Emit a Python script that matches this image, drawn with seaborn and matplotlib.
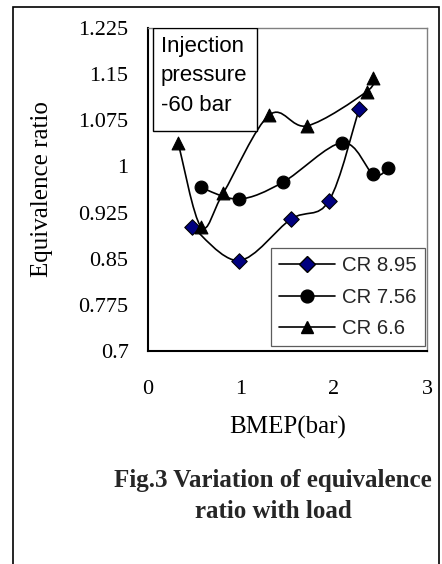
import numpy as np
import pandas as pd
import matplotlib
matplotlib.use("Agg")
import matplotlib.pyplot as plt
from matplotlib.path import Path
from matplotlib.patches import PathPatch, Rectangle
from matplotlib.lines import Line2D
import seaborn as sns

# Equivalence ratio vs BMEP for three compression ratios
bmep_cr895 = [0.476, 0.978, 1.538, 1.946, 2.269]
phi_cr895 = [0.902, 0.847, 0.9145, 0.944, 1.093]

bmep_cr756 = [0.566, 0.978, 1.448, 2.090, 2.423, 2.584]
phi_cr756 = [0.966, 0.947, 0.974, 1.0386, 0.987, 0.997]

bmep_cr66 = [0.326, 0.570, 0.810, 1.305, 1.713, 2.350, 2.423]
phi_cr66 = [1.0375, 0.902, 0.957, 1.0836, 1.066, 1.1215, 1.144]

series_labels = ["CR 8.95", "CR 7.56", "CR 6.6"]
note_lines = ["Injection", "pressure", "-60 bar"]
x_ticks = [0, 1, 2, 3]
y_ticks = [0.7, 0.775, 0.85, 0.925, 1.0, 1.075, 1.15, 1.225]
y_tick_labels = ["0.7", "0.775", "0.85", "0.925", "1", "1.075", "1.15", "1.225"]

sns.set_theme(style="white")
plt.rcParams["font.family"] = ["Liberation Serif", "DejaVu Serif"]

fig = plt.figure(figsize=(4.42, 5.64), dpi=100)
ax = fig.add_axes([148 / 442, 1 - 351 / 564, 279 / 442, 323 / 564])


def smooth_path(xs, ys):
    """Cubic Bezier through the points (Catmull-Rom style tangents)."""
    pts = np.column_stack([xs, ys]).astype(float)
    n = len(pts)
    verts = [pts[0]]
    codes = [Path.MOVETO]
    for i in range(n - 1):
        p0 = pts[i - 1] if i > 0 else pts[i]
        p1 = pts[i]
        p2 = pts[i + 1]
        p3 = pts[i + 2] if i + 2 < n else pts[i + 1]
        c1 = p1 + (p2 - p0) / 6.0
        c2 = p2 - (p3 - p1) / 6.0
        verts += [c1, c2, p2]
        codes += [Path.CURVE4] * 3
    return Path(verts, codes)


styles = [
    dict(marker="D", face="#000080", size=62),
    dict(marker="o", face="black", size=85),
    dict(marker="^", face="black", size=85),
]
data = [(bmep_cr895, phi_cr895), (bmep_cr756, phi_cr756), (bmep_cr66, phi_cr66)]

for (xs, ys), st in zip(data, styles):
    ax.add_patch(PathPatch(smooth_path(xs, ys), facecolor="none",
                           edgecolor="black", lw=1.2, zorder=2))
    df = pd.DataFrame({"BMEP": xs, "phi": ys})
    sns.scatterplot(data=df, x="BMEP", y="phi", ax=ax, marker=st["marker"],
                    s=st["size"], color=st["face"], edgecolor="black",
                    linewidth=0.8, zorder=3, legend=False)

ax.set_xlim(0, 3)
ax.set_ylim(0.7, 1.225)
ax.set_xticks(x_ticks)
ax.set_xticklabels([str(t) for t in x_ticks])
ax.set_yticks(y_ticks)
ax.set_yticklabels(y_tick_labels)
ax.tick_params(axis="both", direction="out", length=5, width=1.2,
               color="black", labelsize=16, labelcolor="black")
ax.tick_params(axis="y", pad=9)
ax.tick_params(axis="x", pad=16)
ax.set_xlabel("BMEP(bar)", fontsize=18, color="black", labelpad=12)
ax.set_ylabel("Equivalence ratio", fontsize=18, color="black", labelpad=18)

for side in ["left", "bottom"]:
    ax.spines[side].set_color("black")
    ax.spines[side].set_linewidth(1.5)
for side in ["top", "right"]:
    ax.spines[side].set_color("#808080")
    ax.spines[side].set_linewidth(1.0)

# Legend with line + marker handles
handles = [
    Line2D([0], [0], color="black", lw=1.2, marker=st["marker"],
           markerfacecolor=st["face"], markeredgecolor="black",
           markersize=np.sqrt(st["size"]))
    for st in styles
]
leg = ax.legend(handles, series_labels, loc="lower right",
                bbox_to_anchor=(0.993, 0.014), frameon=True, fancybox=False,
                prop={"family": "Liberation Sans", "size": 14.7},
                handlelength=2.75, handletextpad=0.35, labelspacing=0.62,
                borderpad=0.4, borderaxespad=0)
leg.get_frame().set_edgecolor("#333333")
leg.get_frame().set_linewidth(0.9)

# Annotation box
ax.add_patch(Rectangle((0.017, 0.68), 0.374, 0.32, transform=ax.transAxes,
                       facecolor="white", edgecolor="black", lw=1.0, zorder=4))
for line, base_px in zip(note_lines, [51.7, 81.5, 110.7]):
    ax.text(0.045, (351 - base_px) / 323, line, transform=ax.transAxes,
            ha="left", va="baseline", fontsize=16, family="Liberation Sans",
            zorder=5, color="black")

# Caption under the chart
fig.text(273 / 442, 1 - 480 / 564, "Fig.3 Variation of equivalence",
         ha="center", va="center", fontsize=18, fontweight="bold")
fig.text(273 / 442, 1 - 511 / 564, "ratio with load",
         ha="center", va="center", fontsize=18, fontweight="bold")

# Outer frame (open at the bottom edge)
fig.add_artist(Rectangle((13 / 442, -0.1), 425.5 / 442, 1.1 - 7 / 564,
                         transform=fig.transFigure, facecolor="none",
                         edgecolor="black", lw=1.2))

fig.savefig("out.png", dpi=100)
